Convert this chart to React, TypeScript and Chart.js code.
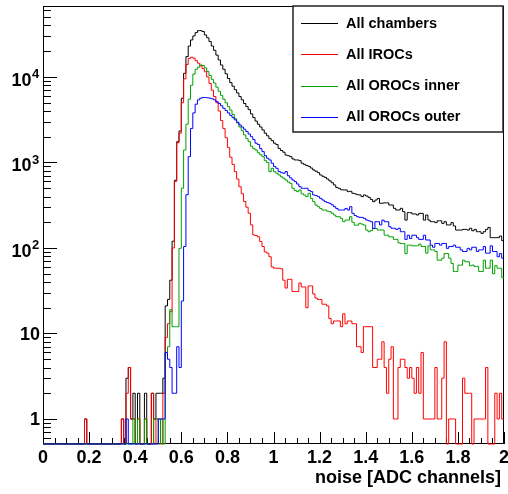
import React, { useEffect, useRef } from 'react';
import { Chart, registerables } from 'chart.js';

Chart.register(...registerables);

// ---------- data (200 bins of width 0.01 from 0 to 2) ----------
const BIN_WIDTH = 0.01;
const X_MIN = 0;
const X_MAX = 2;
const Y_MIN = 0.51;
const Y_MAX = 67600;

const seriesNames = ['All chambers', 'All IROCs', 'All OROCs inner', 'All OROCs outer'];
const seriesColors = ['#000000', '#ff0000', '#00a000', '#0000ff'];

const allChambers = [
  0,0,0,0,0,0,0,0,0,0,
  0,0,0,0,0,0,0,0,1,0,
  0,0,0,0,0,0,0,0,0,0,
  0,0,0,0,1,0,3,4,1,2,
  0,2,0,0,2,0,0,2,1,2,
  2,2,3,21,25,42,120,620,1750,2330,
  5640,11050,17300,23000,27100,30200,33000,34800,34800,34000,
  31000,28700,26000,23000,20500,18000,15800,13800,12300,10900,
  9600,8600,7800,7100,6500,5900,5400,4900,4500,4150,
  3700,3350,3050,2800,2600,2400,2200,2050,1900,1800,
  1680,1620,1460,1380,1320,1220,1200,1170,1100,1070,
  1070,1050,980,950,920,900,860,817,790,760,
  714,690,670,640,610,580,546,510,499,480,
  477,477,456,460,436,430,420,417,398,417,
  405,391,370,348,364,380,333,335,337,337,
  318,318,291,278,278,291,266,212,259,259,
  250,250,243,254,254,212,243,212,203,203,
  198,208,208,194,203,186,186,198,181,162,
  162,162,165,165,162,170,159,165,155,155,
  148,155,165,174,132,132,132,132,138,122,
];

const allIROCs = [
  0,0,0,0,0,0,0,0,0,0,
  0,0,0,0,0,0,0,0,1,0,
  0,0,0,0,0,0,0,0,0,0,
  0,0,0,0,1,0,2,4,1,1,
  0,1,0,0,1,0,0,2,0,1,
  1,0,2,9,13,18,100,600,1700,2200,
  5000,9500,14000,16500,17000,16600,15500,14500,13500,12500,
  11500,10000,8400,7000,5900,5000,4000,3100,2500,1950,
  1500,1150,950,780,640,520,430,350,300,255,
  186,142,140,135,119,104,90,87,79,60,
  58,58,58,57,42,34,43,43,31,31,
  31,39,35,35,20,36,36,29,26,25,
  25,22,22,21,15,13,14,14,14,12,
  17,13,14,14,13,13,7,7,6,12,
  12,12,12,4,4,5,5,8,4,2,
  5,7,1,1,4,5,5,4,3,4,
  3,2,4,2,6,1,1,1,1,1,
  4,1,1,3,8,0,1,1,1,0,
  0,0,3,2,2,2,0,1,1,1,
  1,1,4,0,0,0,2,1,2,1,
];

const allOROCsInner = [
  0,0,0,0,0,0,0,0,0,0,
  0,0,0,0,0,0,0,0,0,0,
  0,0,0,0,0,0,0,0,0,0,
  0,0,0,0,0,0,0,0,0,1,
  0,1,0,0,1,0,0,0,1,1,
  0,1,0,6,7,19,12,12,12,99,
  500,1400,2800,5500,8000,10800,12300,13000,13800,13600,
  12800,11600,10400,9400,8500,7600,6800,6100,5500,5000,
  4500,4100,3650,3250,2900,2600,2350,2100,1900,1750,
  1550,1450,1400,1300,1230,1170,1050,1000,782,855,
  780,748,714,680,653,624,590,570,499,470,
  456,477,430,417,398,436,380,348,318,304,
  290,278,278,270,266,255,243,232,232,222,
  203,212,212,232,200,185,185,194,190,185,
  162,155,160,169,169,162,162,162,141,141,
  135,135,126,126,115,113,113,86,108,108,
  106,106,106,111,104,104,87,106,95,95,
  91,72,72,76,86,86,76,66,53,53,
  63,63,72,69,69,62,63,61,61,53,
  53,72,58,58,72,50,62,58,58,45,
];

const allOROCsOuter = [
  0,0,0,0,0,0,0,0,0,0,
  0,0,0,0,0,0,0,0,0,0,
  0,0,0,0,0,0,0,0,0,0,
  0,0,0,0,0,0,1,0,0,0,
  0,0,0,0,0,0,0,0,0,0,
  1,1,1,6,5,4,2,2,7,4,
  24,104,420,1170,2500,3800,4800,5400,5650,5750,
  5750,5700,5650,5550,5400,5150,4900,4600,4300,4050,
  3800,3550,3350,3150,2950,2750,2600,2450,2300,2150,
  2000,1850,1680,1620,1450,1340,1200,1120,1070,980,
  900,855,782,760,748,782,700,660,624,597,
  560,521,499,499,499,470,456,417,410,398,
  380,364,348,340,333,320,304,290,278,278,
  278,290,278,304,254,240,232,228,228,222,
  212,208,203,169,203,203,186,212,203,203,
  177,170,170,165,170,155,155,126,141,129,
  141,141,132,126,126,141,124,124,108,102,
  113,113,108,113,113,99,104,104,108,102,
  102,95,91,91,99,95,102,102,91,95,
  95,104,87,87,106,91,91,79,86,76,
];

const xTickLabels = ['0', '0.2', '0.4', '0.6', '0.8', '1', '1.2', '1.4', '1.6', '1.8', '2'];
const xTickValues = [0, 0.2, 0.4, 0.6, 0.8, 1, 1.2, 1.4, 1.6, 1.8, 2];
const xMinorStep = 0.05;
const yDecadeExponents = [0, 1, 2, 3, 4];
const xAxisTitle = 'noise [ADC channels]';

const FONT = '"Liberation Sans", Arial, Helvetica, sans-serif';

// Build step points: value of bin i starts at its low edge and extends to the next edge
function toSteps(values: number[]) {
  const pts = values.map((v, i) => ({ x: X_MIN + i * BIN_WIDTH, y: v > 0 ? v : Y_MIN }));
  const last = values[values.length - 1];
  pts.push({ x: X_MIN + values.length * BIN_WIDTH, y: last > 0 ? last : Y_MIN });
  return pts;
}

const rootAxesPlugin = {
  id: 'rootAxes',
  beforeDatasetsDraw(chart: any) {
    const { ctx, chartArea: a, scales } = chart;
    const xs = scales.x;
    const ys = scales.y;
    ctx.save();
    ctx.strokeStyle = '#000';
    ctx.lineWidth = 1;
    // frame
    ctx.strokeRect(a.left + 0.5, a.top + 0.5, a.right - a.left - 1, a.bottom - a.top - 1);

    // x ticks
    const nMinor = Math.round((X_MAX - X_MIN) / xMinorStep);
    ctx.beginPath();
    for (let i = 0; i <= nMinor; i++) {
      const v = X_MIN + i * xMinorStep;
      const px = Math.round(xs.getPixelForValue(v)) + 0.5;
      const len = i % 4 === 0 ? 12 : 6;
      ctx.moveTo(px, a.bottom);
      ctx.lineTo(px, a.bottom - len);
    }
    // y ticks
    for (let e = -1; e <= 4; e++) {
      for (let k = 1; k <= 9; k++) {
        const v = k * Math.pow(10, e);
        if (v < Y_MIN || v > Y_MAX) continue;
        const py = Math.round(ys.getPixelForValue(v)) + 0.5;
        const len = k === 1 ? 14 : 8;
        ctx.moveTo(a.left, py);
        ctx.lineTo(a.left + len, py);
      }
    }
    ctx.stroke();

    // x labels
    ctx.fillStyle = '#000';
    ctx.font = `bold 18px ${FONT}`;
    ctx.textAlign = 'center';
    ctx.textBaseline = 'alphabetic';
    xTickValues.forEach((v, i) => {
      ctx.fillText(xTickLabels[i], xs.getPixelForValue(v), a.bottom + 19);
    });

    // y labels
    yDecadeExponents.forEach((e) => {
      const py = ys.getPixelForValue(Math.pow(10, e));
      if (e < 2) {
        ctx.font = `bold 18px ${FONT}`;
        ctx.textAlign = 'right';
        ctx.fillText(e === 0 ? '1' : '10', a.left - 3, py + 6.5);
      } else {
        ctx.font = `bold 18px ${FONT}`;
        ctx.textAlign = 'right';
        ctx.fillText('10', a.left - 11.5, py + 9);
        ctx.font = `bold 13px ${FONT}`;
        ctx.textAlign = 'left';
        ctx.fillText(String(e), a.left - 11, py + 1.5);
      }
    });

    // axis title
    ctx.font = `bold 18px ${FONT}`;
    ctx.textAlign = 'right';
    ctx.fillText(xAxisTitle, a.right - 3, a.bottom + 39);
    ctx.restore();
  },
};

const rootLegendPlugin = {
  id: 'rootLegend',
  afterDraw(chart: any) {
    const { ctx } = chart;
    const bx = 293, by = 6, bw = 210, bh = 126;
    ctx.save();
    ctx.fillStyle = '#fff';
    ctx.fillRect(bx, by, bw, bh);
    ctx.strokeStyle = '#222';
    ctx.lineWidth = 1.5;
    ctx.strokeRect(bx, by, bw, bh);
    ctx.font = `bold 14.5px ${FONT}`;
    ctx.textAlign = 'left';
    ctx.textBaseline = 'middle';
    seriesNames.forEach((name, i) => {
      const cy = 23 + i * 31.3;
      ctx.strokeStyle = seriesColors[i];
      ctx.lineWidth = 1;
      ctx.beginPath();
      ctx.moveTo(301, Math.round(cy) + 0.5);
      ctx.lineTo(338, Math.round(cy) + 0.5);
      ctx.stroke();
      ctx.fillStyle = '#000';
      ctx.fillText(name, 346, cy + 0.5);
    });
    ctx.restore();
  },
};

export default function App() {
  const canvasRef = useRef<HTMLCanvasElement | null>(null);

  useEffect(() => {
    document.body.style.margin = '0';
    const canvas = canvasRef.current;
    if (!canvas) return;
    const seriesValues = [allChambers, allIROCs, allOROCsInner, allOROCsOuter];
    // draw order: black first (bottom), blue last (top)
    const datasets = [3, 2, 1, 0].map((i) => ({
      label: seriesNames[i],
      data: toSteps(seriesValues[i]),
      borderColor: seriesColors[i],
      backgroundColor: seriesColors[i],
      borderWidth: 1,
      stepped: 'before' as const,
      pointRadius: 0,
      fill: false,
      tension: 0,
      clip: false as const,
    }));
    const chart = new Chart(canvas, {
      type: 'line',
      data: { datasets },
      options: {
        responsive: false,
        animation: false,
        devicePixelRatio: 1,
        layout: { padding: { left: 43, top: 6, right: 4, bottom: 50 } },
        scales: {
          x: { type: 'linear', min: X_MIN, max: X_MAX, display: false },
          y: { type: 'logarithmic', min: Y_MIN, max: Y_MAX, display: false },
        },
        plugins: { legend: { display: false }, tooltip: { enabled: false } },
        elements: { point: { radius: 0 } },
      },
      plugins: [rootAxesPlugin, rootLegendPlugin],
    } as any);
    return () => chart.destroy();
  }, []);

  return (
    <div style={{ position: 'absolute', left: 0, top: 0, width: 508, height: 494, background: '#fff' }}>
      <canvas ref={canvasRef} width={508} height={494} style={{ display: 'block', width: 508, height: 494 }} />
    </div>
  );
}
